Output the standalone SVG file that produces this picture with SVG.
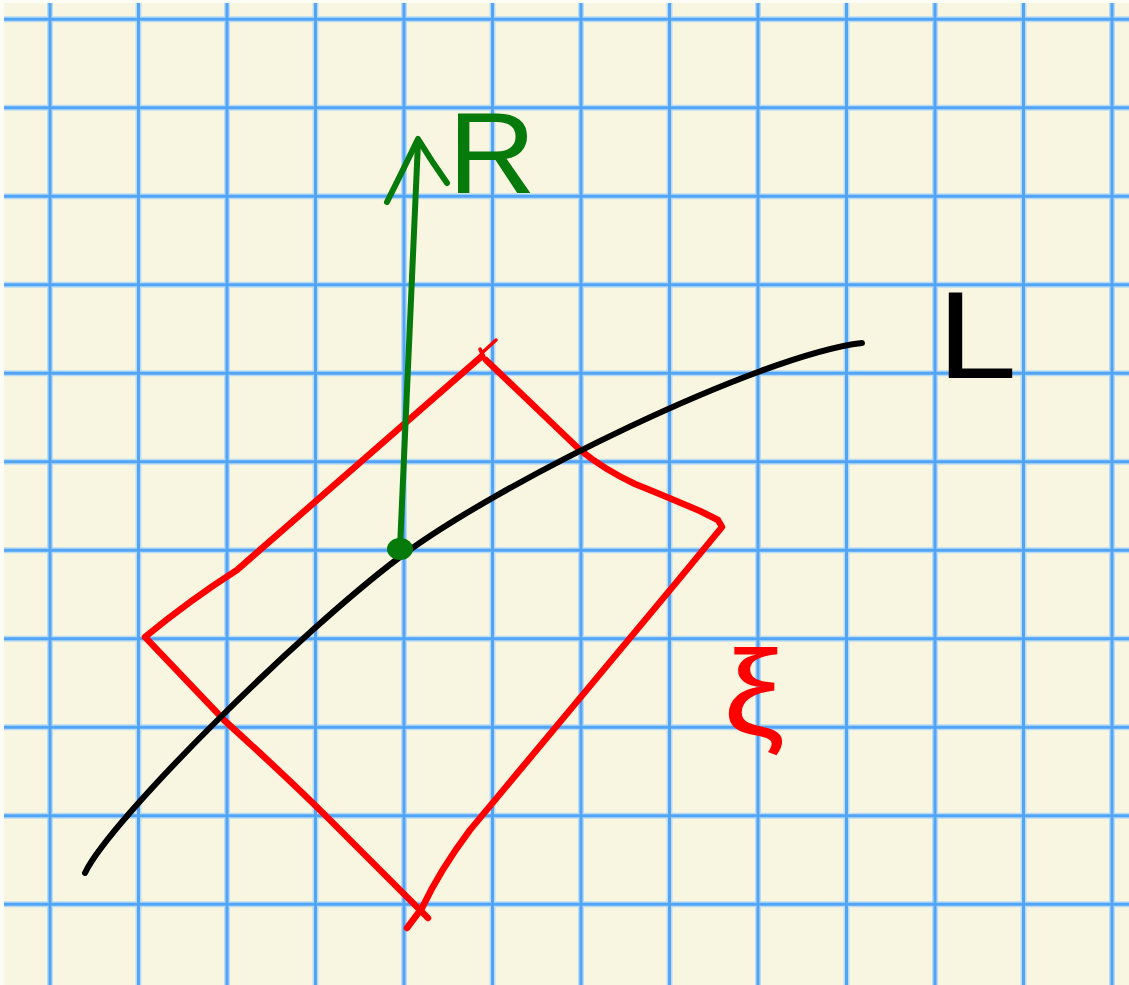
<svg xmlns="http://www.w3.org/2000/svg" width="1129" height="985" viewBox="0 0 1129 985">
  <style>
    .gridglow { stroke: #b9dbf3; stroke-width: 6; fill: none; }
    .grid { stroke: #52a4f7; stroke-width: 3; fill: none; }
    .ink { fill: none; stroke-linecap: round; stroke-linejoin: round; }
    .black { stroke: #000000; stroke-width: 6; }
    .red { stroke: #ff0000; stroke-width: 6.5; }
    .green { stroke: #067a0a; stroke-width: 6; }
    .lbl { font-family: "Liberation Sans", Arial, sans-serif; }
  </style>
  <rect x="0" y="0" width="1129" height="985" fill="#fdfdf7"/>
  <rect x="4" y="3" width="1125" height="982" fill="#f8f6e0"/>
  <g id="grid">
    <path class="gridglow" d="M50,3V985 M138.5,3V985 M227,3V985 M315.5,3V985 M404,3V985 M492.5,3V985 M581,3V985 M669.5,3V985 M758,3V985 M846.5,3V985 M935,3V985 M1023.5,3V985 M1112,3V985 M4,19.3H1129 M4,107.8H1129 M4,196.3H1129 M4,284.8H1129 M4,373.3H1129 M4,461.8H1129 M4,550.3H1129 M4,638.8H1129 M4,727.3H1129 M4,815.8H1129 M4,904.3H1129"/>
    <path class="grid" d="M50,3V985 M138.5,3V985 M227,3V985 M315.5,3V985 M404,3V985 M492.5,3V985 M581,3V985 M669.5,3V985 M758,3V985 M846.5,3V985 M935,3V985 M1023.5,3V985 M1112,3V985 M4,19.3H1129 M4,107.8H1129 M4,196.3H1129 M4,284.8H1129 M4,373.3H1129 M4,461.8H1129 M4,550.3H1129 M4,638.8H1129 M4,727.3H1129 M4,815.8H1129 M4,904.3H1129"/>
  </g>
  <g id="plane-xi">
    <path class="ink red" d="M482,356 L237,570 Q190,600 145,637 L225,721 Q290,780 330,820 L428,918"/>
    <path class="ink red" d="M407,928 L422,908 Q440,870 470,830 L560,722 L680,578 L722,527 L718,520 L700,511 Q660,494 635,484 Q605,470 580,450 L486,360"/>
    <path class="ink red" d="M480,349 L484,359 M483,352 L496,340" style="stroke-width:3.5"/>
  </g>
  <g id="curve-L">
    <path class="ink black" d="M85,873 C110,820 300,632 400,557 C500,482 760,355 862,343"/>
  </g>
  <g id="point">
    <ellipse cx="400" cy="549" rx="13" ry="11" fill="#067a0a"/>
  </g>
  <g id="connectors">
    <path class="ink green" d="M400,548 C404,470 409,330 418,142"/>
    <path class="ink green" d="M387,202 Q404,168 418,139 Q432,162 447,183"/>
  </g>
  <g id="labels">
    <text class="lbl" x="448" y="193" font-size="115" fill="#067a0a" textLength="88" lengthAdjust="spacingAndGlyphs">R</text>
    <text class="lbl" x="937" y="378" font-size="125" fill="#000000" textLength="80" lengthAdjust="spacingAndGlyphs">L</text>
    <text class="lbl" x="723" y="735" font-size="120" fill="#ff0000" textLength="62" lengthAdjust="spacingAndGlyphs">ξ</text>
  </g>
</svg>
